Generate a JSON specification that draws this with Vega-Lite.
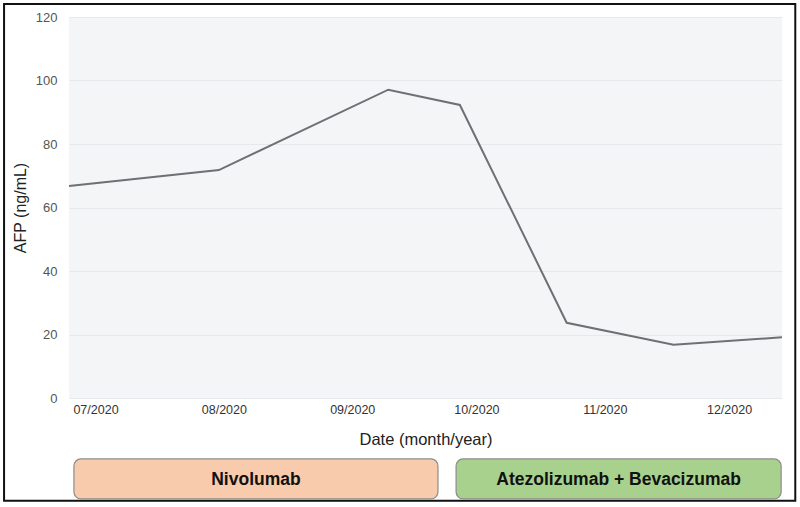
{
  "$schema": "https://vega.github.io/schema/vega-lite/v6.json",
  "width": 713,
  "height": 381,
  "autosize": {"type": "none"},
  "padding": {"left": 69, "top": 17, "right": 18, "bottom": 109},
  "background": "white",
  "config": {
    "view": {"fill": "#f4f5f6", "stroke": null},
    "font": "Liberation Sans"
  },
  "layer": [
    {
      "data": {"values": [
        {"date": "2020-06-24T14:24:00Z", "afp": 66.8},
        {"date": "2020-07-30T19:00:00Z", "afp": 71.8},
        {"date": "2020-09-09T17:00:00Z", "afp": 97.1},
        {"date": "2020-09-27T00:00:00Z", "afp": 92.3},
        {"date": "2020-10-22T19:00:00Z", "afp": 23.7},
        {"date": "2020-11-17T14:00:00Z", "afp": 16.8},
        {"date": "2020-12-13T19:00:00Z", "afp": 19.1}
      ]},
      "mark": {"type": "line", "color": "#6d7174", "strokeWidth": 2},
      "encoding": {
        "x": {
          "field": "date", "type": "temporal",
          "scale": {"domain": [{"year": 2020, "month": 6, "date": 24, "hours": 14, "minutes": 24, "utc": true}, {"year": 2020, "month": 12, "date": 13, "hours": 19, "utc": true}], "nice": false},
          "axis": {
            "values": [
              {"year": 2020, "month": 7, "date": 1, "utc": true},
              {"year": 2020, "month": 8, "date": 1, "utc": true},
              {"year": 2020, "month": 9, "date": 1, "utc": true},
              {"year": 2020, "month": 10, "date": 1, "utc": true},
              {"year": 2020, "month": 11, "date": 1, "utc": true},
              {"year": 2020, "month": 12, "date": 1, "utc": true}
            ],
            "labelExpr": "utcFormat(datum.value, '%m/%Y')",
            "grid": false, "domain": false, "ticks": false,
            "labelPadding": 5, "labelFontSize": 12.5, "labelColor": "#333333",
            "title": "Date (month/year)", "titleFontSize": 16.5, "titleFontWeight": "normal",
            "titleColor": "#222222", "titlePadding": 16
          }
        },
        "y": {
          "field": "afp", "type": "quantitative",
          "scale": {"domain": [0, 120], "nice": false, "zero": false},
          "axis": {
            "values": [0, 20, 40, 60, 80, 100, 120],
            "grid": true, "gridColor": "#e6e9ec", "gridWidth": 1,
            "domain": false, "ticks": false,
            "labelPadding": 12, "labelFontSize": 13, "labelColor": "#555555",
            "title": "AFP (ng/mL)", "titleFontSize": 16, "titleFontWeight": "normal",
            "titleColor": "#222222", "titlePadding": 7
          }
        }
      }
    },
    {
      "data": {"values": [{"frame": "border"}]},
      "mark": {"type": "rect", "fill": null, "stroke": "#111111", "strokeWidth": 2},
      "encoding": {
        "x": {"datum": {"year": 2020, "month": 6, "date": 8, "hours": 22, "utc": true}, "type": "temporal"},
        "x2": {"datum": {"year": 2020, "month": 12, "date": 17, "hours": 0, "utc": true}},
        "y": {"datum": 124.1, "type": "quantitative"},
        "y2": {"datum": -32.4}
      }
    },
    {
      "data": {"name": "treatments", "values": [
        {"treatment": "Nivolumab", "start": "2020-06-25T19:00:00Z", "end": "2020-09-21T17:00:00Z"},
        {"treatment": "Atezolizumab + Bevacizumab", "start": "2020-09-26T02:00:00Z", "end": "2020-12-13T14:00:00Z"}
      ]},
      "layer": [
        {
          "mark": {"type": "rect", "cornerRadius": 7, "stroke": "#8c8c8c", "strokeWidth": 1.2},
          "encoding": {
            "x": {"field": "start", "type": "temporal"},
            "x2": {"field": "end"},
            "y": {"datum": -19.2, "type": "quantitative"},
            "y2": {"datum": -31.8},
            "fill": {
              "field": "treatment", "type": "nominal",
              "scale": {"domain": ["Nivolumab", "Atezolizumab + Bevacizumab"], "range": ["#f8cbad", "#a9d18e"]},
              "legend": null
            }
          }
        },
        {
          "transform": [
            {"calculate": "(toDate(datum.start) + toDate(datum.end)) / 2", "as": "middle"}
          ],
          "mark": {"type": "text", "fontWeight": "bold", "fontSize": 17.5, "color": "#111111", "align": "center", "baseline": "middle"},
          "encoding": {
            "x": {"field": "middle", "type": "temporal"},
            "y": {"datum": -25.8, "type": "quantitative"},
            "text": {"field": "treatment"}
          }
        }
      ]
    }
  ]
}
